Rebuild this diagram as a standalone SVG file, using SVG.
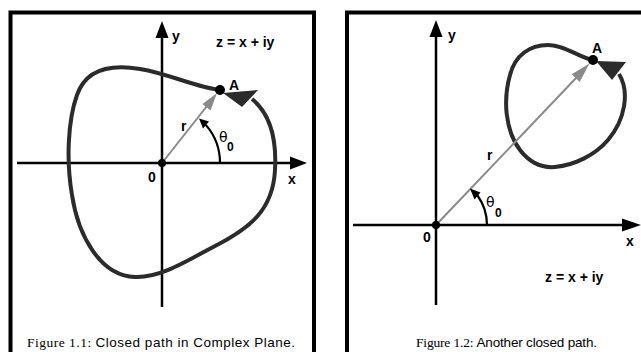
<svg xmlns="http://www.w3.org/2000/svg" width="641" height="352" viewBox="0 0 641 352">
<style>
.frame{fill:none;stroke:#000;stroke-width:4}
.axis{fill:none;stroke:#000;stroke-width:2.5}
.curve{fill:none;stroke:#2b2b2b;stroke-width:4;stroke-linejoin:round}
.radius{fill:none;stroke:#8a8a8a;stroke-width:2}
.arc{fill:none;stroke:#000;stroke-width:2.2}
.lbl{font-family:"Liberation Sans",Arial,sans-serif;font-weight:bold;font-size:14px;fill:#000}
.greek{font-family:"DejaVu Sans","Liberation Sans",sans-serif;font-size:14px;fill:#000}
.sub{font-family:"Liberation Sans",Arial,sans-serif;font-weight:bold;font-size:12px;fill:#000}
.cap{font-size:13.5px;fill:#000}
.serif{font-family:"Liberation Serif","Times New Roman",serif}
.sans{font-family:"Liberation Sans",Arial,sans-serif}
</style>
<rect width="641" height="352" fill="#fff"/>

<g id="panel1">
  <path class="frame" d="M10.5,356 V12.5 H314 V356"/>
  <g id="axes1">
    <line class="axis" x1="17" y1="163" x2="292" y2="163"/>
    <polygon points="307,163 290,156.5 290,169.5" fill="#000"/>
    <line class="axis" x1="162" y1="307" x2="162" y2="36"/>
    <polygon points="162,21 155.5,38 168.5,38" fill="#000"/>
  </g>
  <g id="curve1">
    <path class="curve" d="M220,90 C195,87 170,74 140,69 C105,63 85,72 77,95 C68,120 66,160 72,195 C78,235 100,276 135,277 C160,278 185,262 215,246 C250,228 273,210 275,170 C277,135 268,112 252,99"/>
    <polygon points="223,93 258,90 242,107" fill="#2b2b2b"/>
  </g>
  <g id="radius1">
    <line class="radius" x1="162" y1="163" x2="207" y2="106"/>
    <polygon points="217,93 210.5,110.5 202.5,104" fill="#8a8a8a"/>
  </g>
  <g id="angle1">
    <path class="arc" d="M220,163 A58,58 0 0 0 205.8,124.9"/>
    <polygon points="199,118.5 209,121.5 203,128.5" fill="#000"/>
  </g>
  <circle cx="162" cy="163" r="4" fill="#000"/>
  <circle cx="220" cy="90" r="5" fill="#000"/>
  <text class="lbl" x="172" y="41">y</text>
  <text class="lbl" x="216" y="47">z = x + iy</text>
  <text class="lbl" x="229" y="90">A</text>
  <text class="lbl" x="181" y="131">r</text>
  <text class="greek" x="219" y="142">θ</text>
  <text class="sub" x="227" y="151">0</text>
  <text class="lbl" x="148" y="182">0</text>
  <text class="lbl" x="288" y="184">x</text>
  <text class="cap" x="27" y="347" textLength="268" lengthAdjust="spacing"><tspan class="serif">Figure 1.1: </tspan><tspan class="sans">Closed path in Complex Plane.</tspan></text>
</g>

<g id="panel2">
  <path class="frame" d="M347,356 V12.5 H660"/>
  <g id="axes2">
    <line class="axis" x1="353" y1="225" x2="625" y2="225"/>
    <polygon points="641,225 622,218.5 622,231.5" fill="#000"/>
    <line class="axis" x1="436" y1="305" x2="436" y2="36"/>
    <polygon points="436,20 429.5,37 442.5,37" fill="#000"/>
  </g>
  <g id="curve2">
    <path class="curve" d="M593,60 C578,57 565,45 548,45 C530,45 515,55 510,75 C503,100 505,130 520,150 C530,163 543,168 555,167 C575,165 595,155 608,140 C625,120 630,92 619,74"/>
    <polygon points="596,61 626,62 612,80" fill="#2b2b2b"/>
  </g>
  <g id="radius2">
    <line class="radius" x1="436" y1="225" x2="577" y2="77"/>
    <polygon points="589.5,63.6 579.7,81.9 571.7,74.3" fill="#8a8a8a"/>
  </g>
  <g id="angle2">
    <path class="arc" d="M487,225 A51,51 0 0 0 477.5,195.5"/>
    <polygon points="470,188.5 480.5,192.5 474.5,199.5" fill="#000"/>
  </g>
  <circle cx="436" cy="225" r="4" fill="#000"/>
  <circle cx="593" cy="60" r="5" fill="#000"/>
  <text class="lbl" x="448" y="40">y</text>
  <text class="lbl" x="592" y="53">A</text>
  <text class="lbl" x="487" y="160">r</text>
  <text class="greek" x="486" y="207">θ</text>
  <text class="sub" x="495" y="217">0</text>
  <text class="lbl" x="423" y="242">0</text>
  <text class="lbl" x="626" y="246">x</text>
  <text class="lbl" x="545" y="282">z = x + iy</text>
  <text class="cap" x="416" y="347" textLength="181" lengthAdjust="spacing"><tspan class="serif">Figure 1.2: </tspan><tspan class="sans">Another closed path.</tspan></text>
</g>
</svg>
